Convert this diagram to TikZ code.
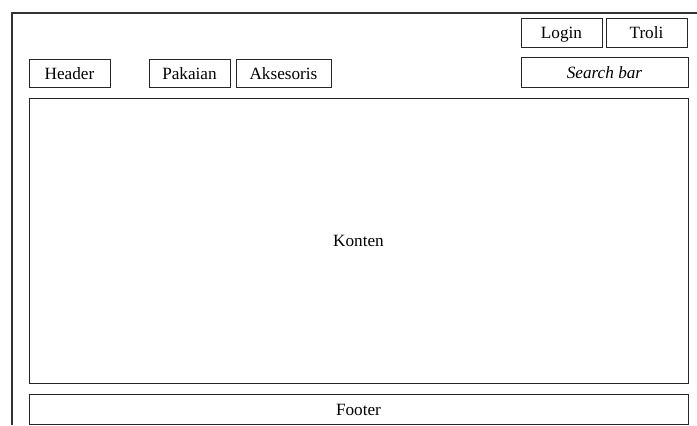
\documentclass[tikz,border=0pt]{standalone}
\usepackage{fontspec}
\setmainfont{Liberation Serif}
\usepackage{tikz}
\usetikzlibrary{positioning}

\begin{document}
\begin{tikzpicture}[
  x=0.5pt,y=-0.5pt,
  box/.style={draw=black!85,line width=0.5pt,inner sep=0pt,minimum height=14pt,
    text height=1.6ex,text depth=0.2ex,font=\fontsize{8.6}{10}\selectfont},
  frame/.style={draw=black!80,line width=0.65pt}
]
\useasboundingbox (0,0) rectangle (697,425);
% outer page frame
\coordinate (pagebl) at (12,425);
\coordinate (pagetl) at (12,13);
\coordinate (pagetr) at (697,13);
\draw[frame] (pagebl) -- (pagetl) -- (pagetr);
% top bar
\node[box,minimum width=40.5pt] (header) at (69.5,73) {Header};
\node[box,minimum width=40.5pt] (pakaian) at (189.5,73) {Pakaian};
\node[box,minimum width=47.5pt] (aksesoris) at (283.5,73) {Aksesoris};
\node[box,minimum width=40.5pt,minimum height=14.5pt] (login) at (561.5,32.5) {Login};
\node[box,minimum width=40.5pt,minimum height=14.5pt] (troli) at (646.5,32.5) {Troli};
\node[box,minimum width=83.5pt,minimum height=15pt] (search) at (604.5,72) {\itshape Search bar};
% content and footer
\node[box,minimum width=329.5pt,minimum height=142.5pt] (konten) at (358.5,240.5) {Konten};
\node[box,minimum width=329.5pt,minimum height=15pt] (footer) at (358.5,409) {Footer};
\end{tikzpicture}
\end{document}
